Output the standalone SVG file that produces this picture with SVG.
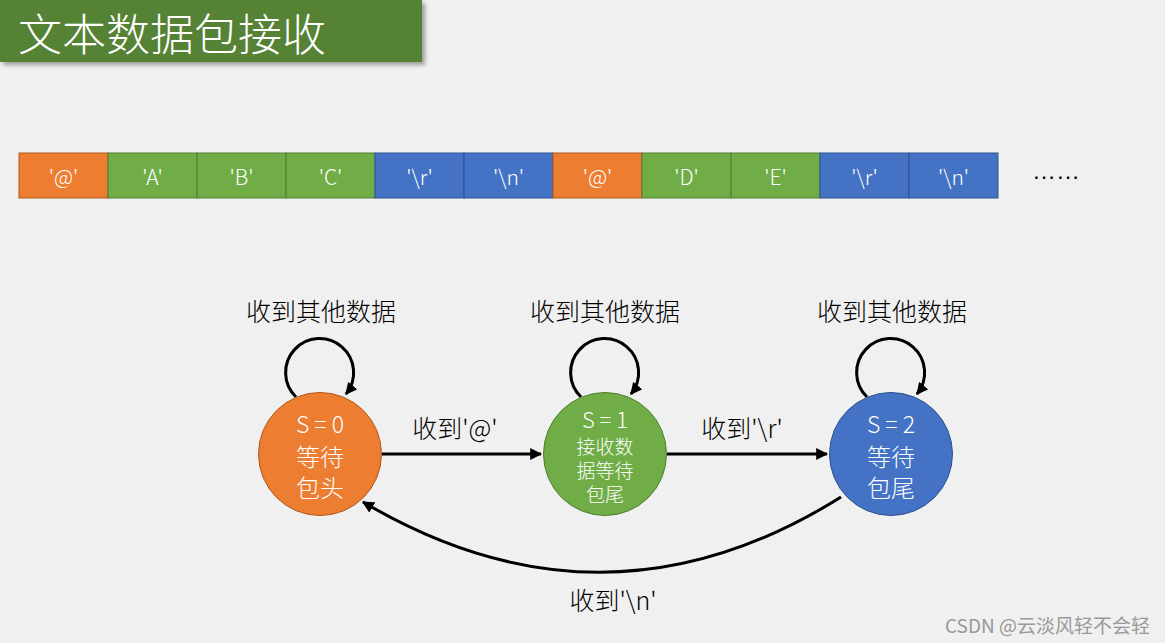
<svg xmlns="http://www.w3.org/2000/svg" width="1165" height="643" viewBox="0 0 1165 643">
<defs>
<style>
.cell text{font-family:"Noto Sans CJK SC","Liberation Sans",sans-serif;font-weight:300;font-size:21px;fill:#fff;text-anchor:middle;dominant-baseline:central}
.o{fill:#ED7D31;stroke:#AE5A21;stroke-width:1}
.g{fill:#70AD47;stroke:#507E32;stroke-width:1}
.b{fill:#4472C4;stroke:#2F528F;stroke-width:1}
.nt{font-family:"Noto Sans CJK SC",sans-serif;font-weight:300;fill:#fff;text-anchor:middle;dominant-baseline:central}
.lbl{font-family:"Noto Sans CJK SC",sans-serif;font-weight:300;font-size:25px;fill:#000;text-anchor:middle;dominant-baseline:central}
.conn{fill:none;stroke:#000;stroke-width:3}
</style>
<marker id="ah" viewBox="0 0 10 10" refX="9" refY="5" markerWidth="4" markerHeight="4" orient="auto" markerUnits="strokeWidth">
<path d="M0,0 L10,5 L0,10 z" fill="#000"/>
</marker>
<filter id="sh" x="-5%" y="-20%" width="115%" height="150%">
<feDropShadow dx="3" dy="3" stdDeviation="2" flood-color="#000" flood-opacity="0.35"/>
</filter>
</defs>
<rect width="1165" height="643" fill="#f0f0f0"/>
<g id="title">
<rect x="0" y="0" width="422" height="62" fill="#548235" filter="url(#sh)"/>
<text x="18" y="32" font-family="Noto Sans CJK SC,sans-serif" font-weight="300" font-size="44" fill="#fff" dominant-baseline="central">文本数据包接收</text>
</g>
<g id="bytes" class="cell">
<rect class="o" x="19" y="153" width="89" height="45"/><text x="63.5" y="176">'@'</text>
<rect class="g" x="108" y="153" width="89" height="45"/><text x="152.5" y="176">'A'</text>
<rect class="g" x="197" y="153" width="89" height="45"/><text x="241.5" y="176">'B'</text>
<rect class="g" x="286" y="153" width="89" height="45"/><text x="330.5" y="176">'C'</text>
<rect class="b" x="375" y="153" width="89" height="45"/><text x="419.5" y="176">'\r'</text>
<rect class="b" x="464" y="153" width="89" height="45"/><text x="508.5" y="176">'\n'</text>
<rect class="o" x="553" y="153" width="89" height="45"/><text x="597.5" y="176">'@'</text>
<rect class="g" x="642" y="153" width="89" height="45"/><text x="686.5" y="176">'D'</text>
<rect class="g" x="731" y="153" width="89" height="45"/><text x="775.5" y="176">'E'</text>
<rect class="b" x="820" y="153" width="89" height="45"/><text x="864.5" y="176">'\r'</text>
<rect class="b" x="909" y="153" width="89" height="45"/><text x="953.5" y="176">'\n'</text>
</g>
<text id="dots" x="1056" y="170" font-family="Liberation Sans,sans-serif" font-size="24" fill="#000" text-anchor="middle" dominant-baseline="central">……</text>
<g id="connectors">
<path class="conn" d="M296,397 A34,34 0 1 1 346,394" marker-end="url(#ah)"/>
<path class="conn" d="M581,397 A34,34 0 1 1 631,394" marker-end="url(#ah)"/>
<path class="conn" d="M867,397 A34,34 0 1 1 917,394" marker-end="url(#ah)"/>
<path class="conn" d="M382,454 L541,454" marker-end="url(#ah)"/>
<path class="conn" d="M667,454 L827,454" marker-end="url(#ah)"/>
<path class="conn" d="M841,497 Q605,645 363,502" marker-end="url(#ah)"/>
<text class="lbl" x="321" y="310">收到其他数据</text>
<text class="lbl" x="605" y="310">收到其他数据</text>
<text class="lbl" x="892" y="310">收到其他数据</text>
<text class="lbl" x="455" y="427">收到'@'</text>
<text class="lbl" x="742" y="427">收到'\r'</text>
<text class="lbl" x="613" y="599">收到'\n'</text>
</g>
<g id="s0">
<circle class="o" cx="320" cy="454" r="61.5"/>
<text class="nt" x="320" y="423" font-size="23">S = 0</text>
<text class="nt" x="320" y="455" font-size="24">等待</text>
<text class="nt" x="320" y="486" font-size="24">包头</text>
</g>
<g id="s1">
<circle class="g" cx="605" cy="454" r="61.5"/>
<text class="nt" x="605" y="418" font-size="22">S = 1</text>
<text class="nt" x="605" y="445" font-size="19">接收数</text>
<text class="nt" x="605" y="469" font-size="19">据等待</text>
<text class="nt" x="605" y="493" font-size="19">包尾</text>
</g>
<g id="s2">
<circle class="b" cx="891" cy="454" r="61.5"/>
<text class="nt" x="891" y="423" font-size="23">S = 2</text>
<text class="nt" x="891" y="455" font-size="24">等待</text>
<text class="nt" x="891" y="486" font-size="24">包尾</text>
</g>
<text id="watermark" x="1150" y="624" font-family="Noto Sans CJK SC,sans-serif" font-size="19" fill="#999" text-anchor="end" dominant-baseline="central">CSDN @云淡风轻不会轻</text>
</svg>
